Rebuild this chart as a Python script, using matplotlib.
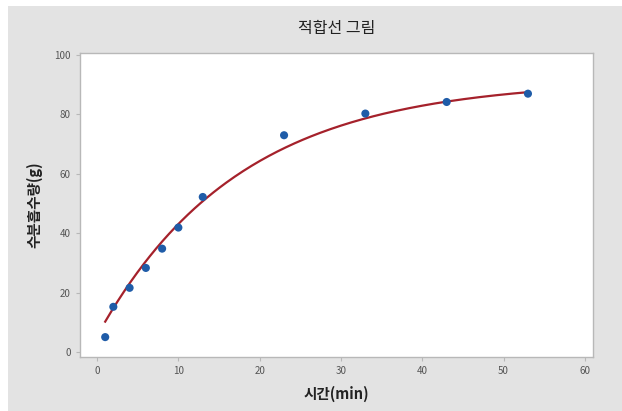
import numpy as np
import matplotlib
matplotlib.use("Agg")
import matplotlib.pyplot as plt
from matplotlib.patches import Rectangle

plt.rcParams['font.family'] = ['Noto Sans CJK KR', 'DejaVu Sans']

# Observed water absorption over time
time_min = [1, 2, 4, 6, 8, 10, 13, 23, 33, 43, 53]
absorbed_g = [5.0, 15.2, 21.6, 28.3, 34.8, 41.9, 52.2, 73.0, 80.3, 84.2, 87.0]

x_ticks = [0, 10, 20, 30, 40, 50, 60]
y_ticks = [0, 20, 40, 60, 80, 100]

# Fitted saturation model: y = fit_a - fit_b * exp(-fit_k * t)
fit_a = 91.6
fit_b = 86.2
fit_k = 0.0575

xf = np.linspace(min(time_min), max(time_min), 200)
yf = fit_a - fit_b * np.exp(-fit_k * xf)

fig = plt.figure(figsize=(6.22, 4.11), dpi=100, facecolor='white')
fig.patches.append(Rectangle((8 / 622, 0), 1, 1 - 6 / 411, transform=fig.transFigure,
                             facecolor='#e3e3e3', edgecolor='none', zorder=-10))

ax = fig.add_axes([80 / 622, 54 / 411, 513 / 622, 304 / 411])
ax.set_facecolor('white')
ax.plot(xf, yf, color='#a5212b', lw=1.6, zorder=2)
ax.scatter(time_min, absorbed_g, s=34, color='#1f5ca8', edgecolors='none', zorder=3)

ax.set_xlim(-2.1, 61.0)
ax.set_ylim(-1.7, 100.7)
ax.set_xticks(x_ticks)
ax.set_yticks(y_ticks)
for s in ax.spines.values():
    s.set_color('#b8b8b8')
    s.set_linewidth(1.0)
ax.tick_params(axis='both', colors='#b8b8b8', labelcolor='#555555', labelsize=7,
               length=3, width=0.8, direction='out')

ax.set_xlabel('시간(min)', fontsize=10.5, fontweight='bold', color='#222222', labelpad=7)
ax.set_ylabel('수분흡수량(g)', fontsize=10.5, fontweight='bold', color='#222222', labelpad=9)
fig.text(0.5 * (80 + 593) / 622, 1 - 28 / 411, '적합선 그림', ha='center', va='center',
         fontsize=11.5, fontweight='medium', color='#222222')

fig.savefig('out.png', dpi=100, facecolor=fig.get_facecolor())
